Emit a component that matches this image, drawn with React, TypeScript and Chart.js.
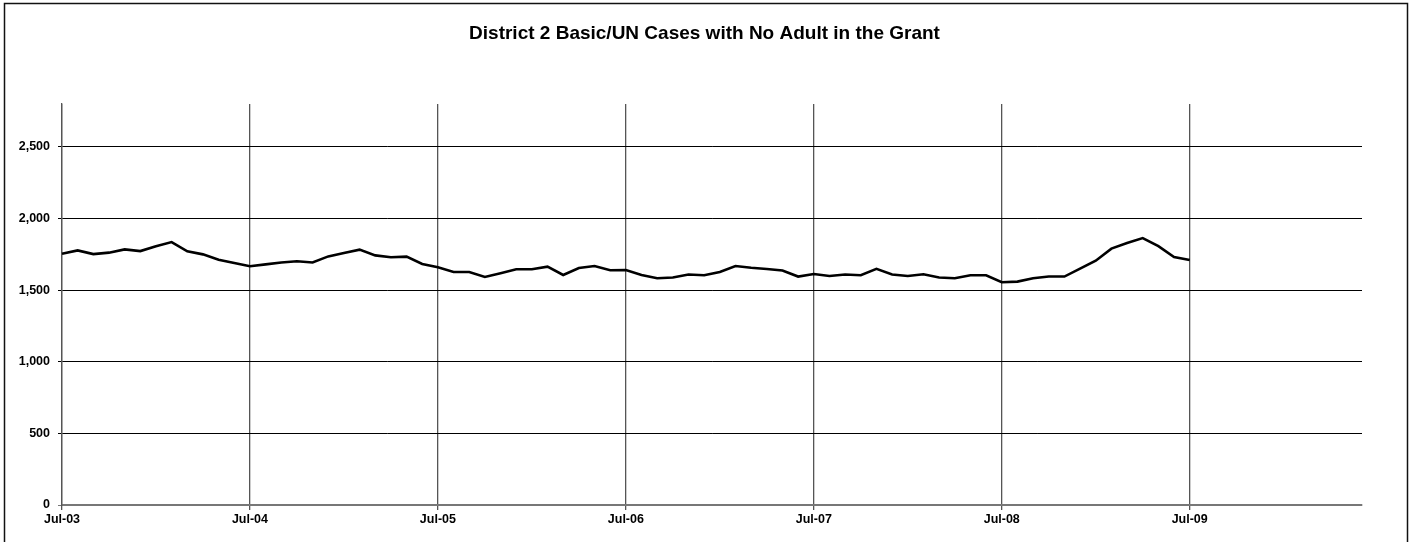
import React, { useEffect, useRef } from "react";
import { Chart, registerables } from "chart.js";

Chart.register(...registerables);

const TITLE = "District 2 Basic/UN Cases with No Adult in the Grant";
const MONTHS = ["Jul", "Aug", "Sep", "Oct", "Nov", "Dec", "Jan", "Feb", "Mar", "Apr", "May", "Jun"];
const FISCAL_YEARS = [["03", "04"], ["04", "05"], ["05", "06"], ["06", "07"], ["07", "08"], ["08", "09"], ["09", "10"]];
const CATEGORIES: string[] = [];
FISCAL_YEARS.forEach(([a, b]) => {
  MONTHS.forEach((m, i) => CATEGORIES.push(`${m}-${i < 6 ? a : b}`));
});

const FY04 = [1755, 1778, 1752, 1762, 1785, 1773, 1806, 1836, 1771, 1750, 1713, 1690];
const FY05 = [1667, 1680, 1693, 1702, 1693, 1736, 1760, 1783, 1743, 1730, 1734, 1683];
const FY06 = [1660, 1627, 1627, 1592, 1618, 1646, 1646, 1664, 1606, 1655, 1669, 1639];
const FY07 = [1641, 1606, 1583, 1588, 1609, 1604, 1627, 1669, 1657, 1648, 1637, 1595];
const FY08 = [1613, 1599, 1609, 1604, 1649, 1609, 1599, 1611, 1588, 1583, 1604, 1604];
const FY09 = [1555, 1560, 1583, 1595, 1595, 1650, 1706, 1790, 1829, 1864, 1808, 1732, 1711];
const CASES = [...FY04, ...FY05, ...FY06, ...FY07, ...FY08, ...FY09];

const Y_MAX = 2800;
const Y_TICKS = [0, 500, 1000, 1500, 2000, 2500];
const FONT = '"Liberation Sans", Arial, sans-serif';

const frame = {
  id: "frame",
  afterDraw(chart: any) {
    const ctx = chart.ctx;
    ctx.save();
    ctx.strokeStyle = "#111";
    ctx.lineWidth = 1.5;
    ctx.strokeRect(4.5, 3.5, 1403, 700);
    ctx.restore();
  },
};

export default function App() {
  const ref = useRef<HTMLCanvasElement>(null);
  useEffect(() => {
    if (!ref.current) return;
    const chart = new Chart(ref.current, {
      type: "line",
      data: {
        labels: CATEGORIES,
        datasets: [
          {
            data: CASES,
            borderColor: "#000",
            borderWidth: 2.6,
            pointRadius: 0,
            tension: 0,
            fill: false,
            yAxisID: "y",
          },
        ],
      },
      plugins: [frame],
      options: {
        animation: false,
        responsive: false,
        layout: { padding: { left: 0, right: 0, top: 0, bottom: 0 } },
        plugins: {
          legend: { display: false },
          tooltip: { enabled: false },
          title: {
            display: true,
            text: TITLE,
            color: "#000",
            font: { family: FONT, size: 19, weight: "bold" },
            padding: { top: 22.6, bottom: 58.6 },
          },
        },
        scales: {
          x: {
            type: "category",
            offset: false,
            afterFit(scale: any) {
              scale.height = 37;
            },
            border: { display: true, color: "#777", width: 2 },
            grid: {
              color: (c: any) => (c.index % 12 === 0 ? "#555" : "rgba(0,0,0,0)"),
              lineWidth: 1.3,
              tickLength: 5,
              drawTicks: true,
            },
            ticks: {
              autoSkip: false,
              maxRotation: 0,
              minRotation: 0,
              padding: 2,
              color: "#000",
              font: { family: FONT, size: 12.5, weight: "bold" },
              callback: (_v: any, i: number) => (i % 12 === 0 ? CATEGORIES[i] : ""),
            },
          },
          y: {
            position: "left",
            min: 0,
            max: Y_MAX,
            afterFit(scale: any) {
              scale.width = 62;
            },
            afterBuildTicks(scale: any) {
              scale.ticks = Y_TICKS.map((v) => ({ value: v }));
            },
            border: { display: true, color: "#555", width: 1.3 },
            grid: {
              color: (c: any) => (c.tick && c.tick.value === 0 ? "#777" : "#000"),
              lineWidth: 1,
              tickLength: 4,
            },
            ticks: {
              padding: 8,
              color: "#000",
              font: { family: FONT, size: 12.5, weight: "bold" },
              callback: (v: any) => Number(v).toLocaleString("en-US"),
            },
          },
          yRight: {
            position: "right",
            min: 0,
            max: Y_MAX,
            afterFit(scale: any) {
              scale.width = 47;
            },
            border: { display: false },
            grid: { display: false, drawTicks: false },
            ticks: { display: false },
          },
        },
      },
    });
    return () => chart.destroy();
  }, []);
  return (
    <div style={{ position: "absolute", left: 0, top: 0, width: 1409, height: 542, background: "#fff" }}>
      <canvas ref={ref} width={1409} height={542} style={{ display: "block", width: 1409, height: 542 }} />
    </div>
  );
}
